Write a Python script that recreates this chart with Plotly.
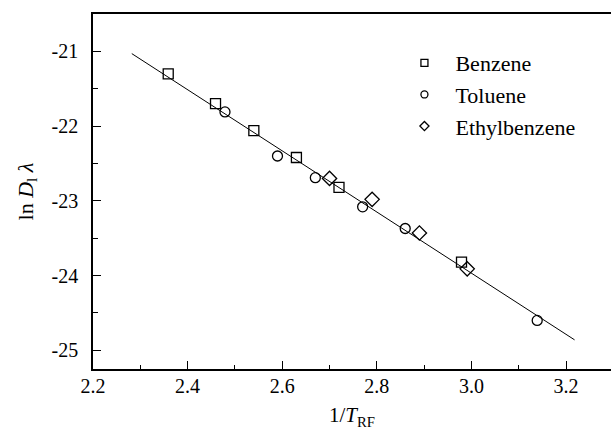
import plotly.graph_objects as go

# Data
benzene_x = [2.359, 2.459, 2.540, 2.630, 2.720, 2.979]
benzene_y = [-21.30, -21.70, -22.06, -22.42, -22.82, -23.82]
toluene_x = [2.479, 2.590, 2.670, 2.770, 2.860, 3.139]
toluene_y = [-21.81, -22.40, -22.69, -23.08, -23.37, -24.60]
ethyl_x = [2.700, 2.790, 2.890, 2.991]
ethyl_y = [-22.70, -22.98, -23.43, -23.91]
fit_x = [2.282, 3.218]
fit_y = [-21.03, -24.86]

x_ticks = [2.2, 2.4, 2.6, 2.8, 3.0, 3.2]
x_ticklabels = ["2.2", "2.4", "2.6", "2.8", "3.0", "3.2"]
y_ticks = [-21, -22, -23, -24, -25]
y_ticklabels = ["-21", "-22", "-23", "-24", "-25"]

FONT = "Liberation Serif"
TICKFONT = dict(family=FONT, size=20, color="black")
fig = go.Figure()

fig.add_trace(go.Scatter(x=fit_x, y=fit_y, mode="lines",
                         line=dict(color="black", width=1), showlegend=False))

series = [
    ("Benzene", benzene_x, benzene_y, "square-open", 10),
    ("Toluene", toluene_x, toluene_y, "circle-open", 10),
    ("Ethylbenzene", ethyl_x, ethyl_y, "diamond-open", 11),
]
for name, xs, ys, sym, sz in series:
    fig.add_trace(go.Scatter(x=xs, y=ys, mode="markers", showlegend=False,
                             marker=dict(symbol=sym, size=sz, color="black",
                                         line=dict(width=1.3, color="black"))))
for i, (name, xs, ys, sym, sz) in enumerate(series):
    fig.add_trace(go.Scatter(x=[None], y=[None], mode="markers", name=name,
                             marker=dict(symbol=sym, size=7, color="black",
                                         line=dict(width=1.3, color="black"))))

fig.update_layout(
    width=611, height=438,
    margin=dict(l=93, r=0, t=14, b=69),
    plot_bgcolor="white", paper_bgcolor="white",
    font=dict(family=FONT, size=20, color="black"),
    showlegend=True,
    legend=dict(x=0.58, y=0.921, xanchor="left", yanchor="top",
                bgcolor="rgba(0,0,0,0)", font=dict(family=FONT, size=22, color="black"),
                itemwidth=52),
)
fig.update_xaxes(range=[2.2, 3.295], tickmode="array", tickvals=x_ticks, ticktext=x_ticklabels,
                 tickfont=TICKFONT, ticklabelstandoff=-2,
                 ticks="inside", ticklen=8, tickwidth=1.2, tickcolor="black",
                 minor=dict(dtick=0.1, ticks="inside", ticklen=4, tickwidth=1, tickcolor="black"),
                 showline=True, linecolor="black", linewidth=1.6, mirror=True,
                 showgrid=False, zeroline=False,
                 title=dict(text="1/<i>T</i><sub>RF</sub>", font=dict(family=FONT, size=21, color="black"),
                            standoff=12))
fig.update_yaxes(range=[-25.25, -20.50], tickmode="array", tickvals=y_ticks, ticktext=y_ticklabels,
                 tickfont=TICKFONT, ticklabelstandoff=9,
                 ticks="inside", ticklen=8, tickwidth=1.2, tickcolor="black",
                 minor=dict(dtick=0.5, ticks="inside", ticklen=5, tickwidth=1, tickcolor="black"),
                 showline=True, linecolor="black", linewidth=1.6, mirror=False,
                 showgrid=False, zeroline=False,
                 title=dict(text="ln <i>D</i><sub>l</sub> <i>λ</i>", font=dict(family=FONT, size=22, color="black"),
                            standoff=12))

fig.write_html("out.html")
